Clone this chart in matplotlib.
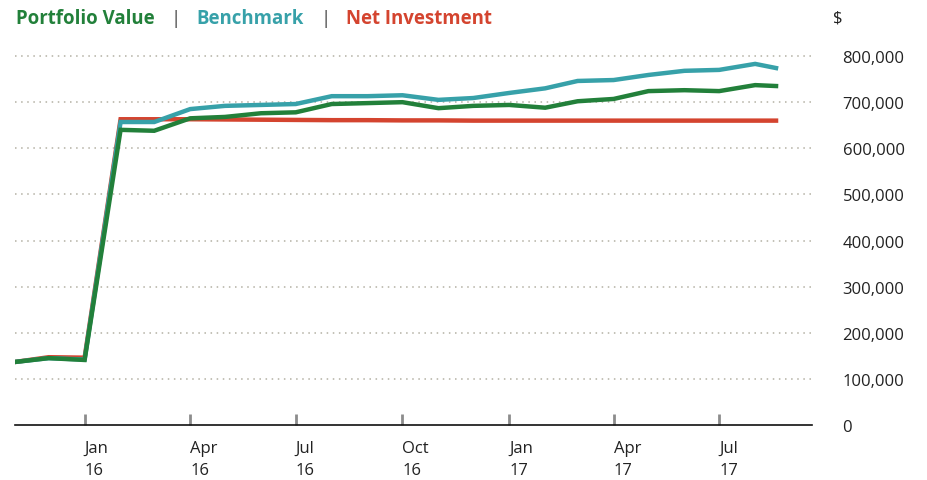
import matplotlib
matplotlib.use("Agg")
import matplotlib.pyplot as plt
import matplotlib.dates as mdates
from matplotlib.ticker import FuncFormatter
import pandas as pd

# monthly points, last one is a partial month
dates = pd.to_datetime([
    "2015-11-03", "2015-12-01", "2016-01-01", "2016-02-01", "2016-03-01",
    "2016-04-01", "2016-05-01", "2016-06-01", "2016-07-01", "2016-08-01",
    "2016-09-01", "2016-10-01", "2016-11-01", "2016-12-01", "2017-01-01",
    "2017-02-01", "2017-03-01", "2017-04-01", "2017-05-01", "2017-06-01",
    "2017-07-01", "2017-08-01", "2017-08-19",
])
portfolio = [137000, 145000, 141000, 640000, 638000, 665000, 668000, 676000,
             678000, 696000, 698000, 700000, 687000, 692000, 694000, 688000,
             702000, 707000, 724000, 726000, 724000, 737000, 735000]
benchmark = [137000, 145000, 142000, 657000, 657000, 685000, 692000, 694000,
             696000, 713000, 713000, 715000, 705000, 709000, 720000, 730000,
             746000, 748000, 759000, 768000, 770000, 783000, 774000]
net_investment = [137000, 147000, 146000, 663000, 663000, 663000, 662500, 662000,
                  661500, 661000, 661000, 660500, 660500, 660000, 660000, 660000,
                  660000, 660000, 660000, 660000, 660000, 660000, 660000]

GREEN = "#22803a"
TEAL = "#37a1a9"
RED = "#d4442f"
GRID = "#b3b0a3"

plt.rcParams["font.family"] = ["Open Sans", "DejaVu Sans"]

fig = plt.figure(figsize=(9.28, 4.81), dpi=100)
ax = fig.add_axes([15 / 928, 55 / 481, (812 - 15) / 928, 392 / 481])

ax.plot(dates, net_investment, color=RED, lw=3.2, solid_joinstyle="miter", zorder=3)
ax.plot(dates, benchmark, color=TEAL, lw=3.2, solid_joinstyle="miter", zorder=4)
ax.plot(dates, portfolio, color=GREEN, lw=3.2, solid_joinstyle="miter", zorder=5)

ax.set_xlim(pd.Timestamp("2015-11-02"), pd.Timestamp("2017-09-19"))
ax.set_ylim(0, 850000)

ax.yaxis.tick_right()
ax.set_yticks(range(0, 800001, 100000))
ax.yaxis.set_major_formatter(FuncFormatter(lambda v, p: f"{int(v):,}"))
ax.tick_params(axis="y", length=0, pad=22, labelsize=12, labelcolor="#222222")
for lab in ax.get_yticklabels():
    lab.set_horizontalalignment("left")
ax.grid(axis="y", color=GRID, linestyle=(0, (1, 3)), lw=1.1)
ax.yaxis.get_gridlines()[0].set_visible(False)

ax.xaxis.set_major_locator(mdates.MonthLocator(bymonth=[1, 4, 7, 10]))
ax.xaxis.set_major_formatter(mdates.DateFormatter("%b\n%y"))
ax.tick_params(axis="x", direction="in", length=8, width=2, color="#8c8c8c",
               pad=11, labelsize=12, labelcolor="#222222")
for lab in ax.get_xticklabels():
    lab.set_horizontalalignment("left")
    lab.set_linespacing(1.45)

for side in ["top", "left", "right"]:
    ax.spines[side].set_visible(False)
ax.spines["bottom"].set_color("#111111")
ax.spines["bottom"].set_linewidth(1.2)

fig.text(833 / 928, 1 - 18 / 481, "$", fontsize=12, color="#222222", va="center")

# legend line across the top
legend_items = [("Portfolio Value", GREEN, "bold"), ("|", "#444444", "normal"),
                ("Benchmark", TEAL, "bold"), ("|", "#444444", "normal"),
                ("Net Investment", RED, "bold")]
x = 16
gap = 16
renderer = fig.canvas.get_renderer()
for text, color, weight in legend_items:
    t = fig.text(x / 928, 1 - 19 / 481, text, fontsize=13.4, fontweight=weight,
                 color=color, va="center")
    bb = t.get_window_extent(renderer=renderer)
    x += bb.width + gap

fig.savefig("out.png", dpi=100)
